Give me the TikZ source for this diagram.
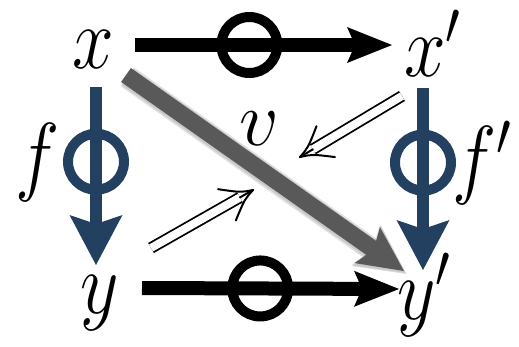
\RequirePackage{fix-cm}
\documentclass[tikz,border=0pt]{standalone}
\usepackage{graphicx}
\usetikzlibrary{arrows.meta,calc}
\definecolor{arrblue}{RGB}{36,64,96}
\definecolor{arrgray}{RGB}{89,89,89}
\newcommand\sqz[1]{\scalebox{0.85}[1]{$#1$}}
\begin{document}
\begin{tikzpicture}[x=1pt,y=-1pt,
  lbl/.style={inner sep=0pt, anchor=base west, font=\fontsize{88}{88}\selectfont},
  vlbl/.style={inner sep=0pt, anchor=base west, font=\fontsize{78}{78}\selectfont},
  blackarr/.style={line width=14pt, -{Stealth[length=45pt, width=36pt, inset=8pt, line width=0pt]}},
  bluearr/.style={arrblue, line width=12pt, -{Stealth[length=50pt, width=53pt, inset=9pt, line width=0pt]}},
  grayarr/.style={arrgray, line width=17pt, -{Stealth[length=45pt, width=44pt, inset=8pt, line width=0pt]}},
  grayshadow/.style={black, opacity=0.12, line width=23pt, -{Stealth[length=49pt, width=50pt, inset=8pt, line width=0pt]}},
  dblline/.style={double, double distance=8pt, line width=1.8pt},
  dblhead/.style={line width=2pt, line cap=round, line join=round},
  ring/.style={circle, draw, line width=10pt, minimum size=56pt, inner sep=0pt},
  bluering/.style={ring, draw=arrblue}]
\useasboundingbox (0,0) rectangle (519,346);
% labels
\node[lbl] (x) at (72,68) {\sqz{x}};
\node[lbl] (xp) at (404,76) {\sqz{x'}};
\node[lbl] (y) at (80,313) {\sqz{y}};
\node[lbl] (yp) at (397,319) {\sqz{y'}};
\node[lbl] (f) at (15,184) {\sqz{f}};
\node[lbl] (fp) at (452,187) {\sqz{f'}};
\node[vlbl] (v) at (239,145) {$v$};
% connector end points
\coordinate (xE) at (135,45);
\coordinate (xpW) at (392,45);
\coordinate (yE) at (142,288);
\coordinate (ypW) at (399,289);
\coordinate (xS) at (96,87);
\coordinate (yN) at (96,265);
\coordinate (xpS) at (423,88);
\coordinate (ypN) at (423,270);
\coordinate (xSE) at (126,75);
\coordinate (ypNW) at (404,271);
\coordinate (xpSW) at (402,96);
\coordinate (vNE) at (300,157);
\coordinate (yNE) at (151,248);
\coordinate (vSW) at (253,190);
% gray diagonal arrow with soft shadow
\draw[grayshadow] ([shift={(1.5,2)}]xSE) -- ([shift={(2.5,3)}]ypNW);
\draw[grayshadow, opacity=0.1, line width=20pt] ([shift={(1,1.5)}]xSE) -- ([shift={(1.5,2)}]ypNW);
\draw[grayarr] (xSE) -- (ypNW);
% horizontal arrows
\draw[blackarr] (xE) -- node[ring, pos=0.445] (c1) {} (xpW);
\draw[blackarr] (yE) -- node[ring, pos=0.46] (c2) {} (ypW);
% vertical arrows
\draw[bluearr] (xS) -- node[bluering, pos=0.42] (c3) {} (yN);
\draw[bluearr] (xpS) -- node[bluering, pos=0.41] (c4) {} (ypN);
% double arrows (2-cells)
\foreach \s/\t in {xpSW/vNE, yNE/vSW}{
  \draw[dblline] (\s) -- ($(\t)!15pt!(\s)$);
  \draw[dblhead] ($(\t)!15pt!(\s)$) -- (\t);
  \coordinate (hb) at ($(\t)!30pt!(\s)$);
  \coordinate (h1) at ($(hb)!18pt!90:(\t)$);
  \coordinate (h2) at ($(hb)!18pt!-90:(\t)$);
  \coordinate (hm) at ($(\t)!12pt!(\s)$);
  \coordinate (c1a) at ($(hm)!4pt!90:(\t)$);
  \coordinate (c2a) at ($(hm)!4pt!-90:(\t)$);
  \draw[dblhead] (h1) .. controls (c1a) .. (\t) .. controls (c2a) .. (h2);
}
\end{tikzpicture}
\end{document}
